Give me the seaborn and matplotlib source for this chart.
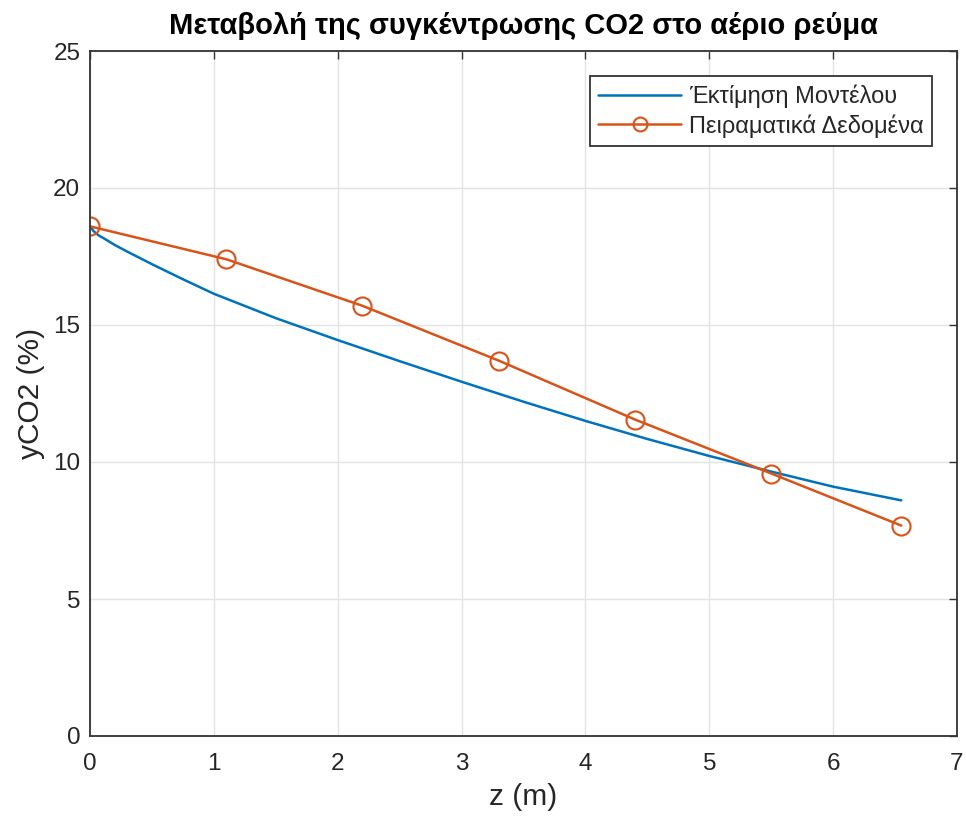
import numpy as np
import pandas as pd
import matplotlib
matplotlib.use("Agg")
import matplotlib.pyplot as plt
import seaborn as sns

# Data
z_model = [0, 0.03, 0.07, 0.12, 0.2, 0.3, 0.5, 0.75, 1.0, 1.5, 2.0, 2.5, 3.0, 3.5, 4.0, 4.5, 5.0, 5.5, 6.0, 6.55]
y_model = [18.6, 18.42, 18.27, 18.14, 17.92, 17.68, 17.22, 16.67, 16.14, 15.25, 14.45, 13.68, 12.93, 12.2, 11.5, 10.84, 10.22, 9.65, 9.1, 8.6]
z_exp = [0, 1.1, 2.2, 3.3, 4.4, 5.5, 6.55]
y_exp = [18.6, 17.4, 15.7, 13.7, 11.55, 9.58, 7.68]
label_model = "Έκτίμηση Μοντέλου"
label_exp = "Πειραματικά Δεδομένα"
title = "Μεταβολή της συγκέντρωσης CO2 στο αέριο ρεύμα"
xlabel = "z (m)"
ylabel = "yCO2 (%)"
xticks = [0, 1, 2, 3, 4, 5, 6, 7]
yticks = [0, 5, 10, 15, 20, 25]

sns.set_theme(style="whitegrid")
plt.rcParams['font.family'] = ['Liberation Sans', 'DejaVu Sans']

df_model = pd.DataFrame({"z": z_model, "y": y_model})
df_exp = pd.DataFrame({"z": z_exp, "y": y_exp})

fig = plt.figure(figsize=(9.66, 8.16), dpi=100)
W, H = 966, 816
l, r, t, b = 90, 957, 51, 736
ax = fig.add_axes([l / W, (H - b) / H, (r - l) / W, (b - t) / H])
sns.lineplot(data=df_model, x="z", y="y", ax=ax, color="#0072BD", linewidth=1.8,
             label=label_model, sort=False)
sns.lineplot(data=df_exp, x="z", y="y", ax=ax, color="#D95319", linewidth=1.8,
             marker="o", markersize=13, markerfacecolor="none", markeredgecolor="#D95319",
             markeredgewidth=1.5, label=label_exp, sort=False)

ax.set_xlim(0, 7)
ax.set_ylim(0, 25)
ax.set_xticks(xticks)
ax.set_yticks(yticks)
ax.set_facecolor("white")
ax.grid(True, color="#e3e3e3", linewidth=1.0)
for s in ax.spines.values():
    s.set_color("#333333")
    s.set_linewidth(1.3)
ax.tick_params(axis="both", direction="in", length=6, width=1, colors="#333333",
               labelsize=17.5, top=True, right=True, labelcolor="#262626", pad=7)
ax.tick_params(axis="x", pad=12)
ax.set_xlabel(xlabel, fontsize=21.5, color="#262626", labelpad=6)
ax.set_ylabel(ylabel, fontsize=21.5, color="#262626", labelpad=6)
ax.set_title(title, fontsize=21, fontweight="bold", color="black", pad=12)
leg = ax.legend(loc="upper right", bbox_to_anchor=(0.9715, 0.963), fontsize=17,
                frameon=True, fancybox=False, edgecolor="#333333", framealpha=1,
                handlelength=3.5, handletextpad=0.35, borderpad=0.35, labelspacing=0.25,
                borderaxespad=0)
leg.get_frame().set_linewidth(1.3)
for h in leg.legend_handles:
    h.set_markersize(10)
fig.savefig("out.png", dpi=100)
